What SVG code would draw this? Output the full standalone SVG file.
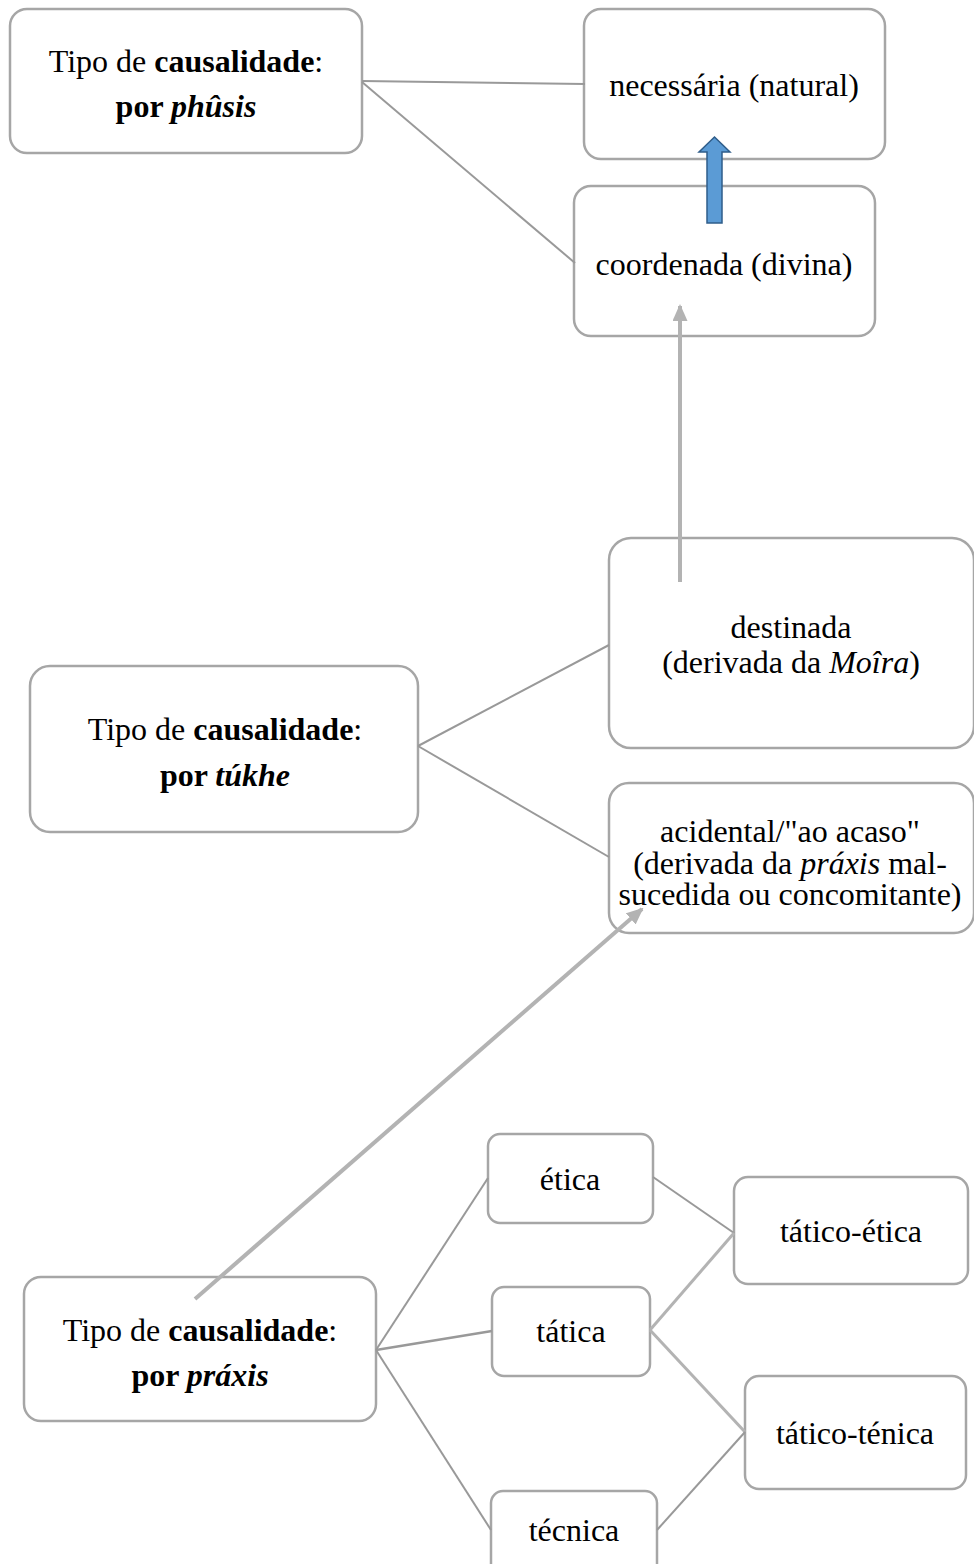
<svg xmlns="http://www.w3.org/2000/svg" width="974" height="1564" viewBox="0 0 974 1564">
<defs>
<style>
.box{fill:#fff;stroke:#a6a6a6;stroke-width:2.5}
.t{font-family:"Liberation Serif","Times New Roman",serif;font-size:32px;fill:#000;text-anchor:middle}
.b{font-weight:bold}
.i{font-style:italic}
.ln{stroke:#999;stroke-width:2;fill:none}
.lt{stroke:#b3b3b3;stroke-width:4;fill:none}
</style>
<marker id="ah" viewBox="0 0 17 15" refX="15" refY="7.5" markerWidth="17" markerHeight="15" orient="auto" markerUnits="userSpaceOnUse">
<path d="M0,0 L17,7.5 L0,15 z" fill="#b3b3b3"/>
</marker>
</defs>
<rect width="974" height="1564" fill="#fff"/>
<g id="n-phusis">
<rect class="box" x="10" y="9" width="352" height="144" rx="17"/>
<text class="t" x="186" y="72">Tipo de <tspan class="b">causalidade</tspan>:</text>
<text class="t" x="186" y="117"><tspan class="b">por </tspan><tspan class="b i">phûsis</tspan></text>
</g>
<g id="n-necessaria">
<rect class="box" x="584" y="9" width="301" height="150" rx="17"/>
<text class="t" x="734" y="96">necessária (natural)</text>
</g>
<g id="n-coordenada">
<rect class="box" x="574" y="186" width="301" height="150" rx="17"/>
<text class="t" x="724" y="275">coordenada (divina)</text>
</g>
<g id="blue-arrow">
<path d="M707,223 L707,152 L699,152 L714.5,137 L730,152 L722,152 L722,223 Z" fill="#5b9bd5" stroke="#2f5d8a" stroke-width="1.5"/>
</g>
<g id="n-destinada">
<rect class="box" x="609" y="538" width="365" height="210" rx="22"/>
<text class="t" x="791" y="638">destinada</text>
<text class="t" x="791" y="673">(derivada da <tspan class="i">Moîra</tspan>)</text>
</g>
<g id="n-tukhe">
<rect class="box" x="30" y="666" width="388" height="166" rx="20"/>
<text class="t" x="225" y="740">Tipo de <tspan class="b">causalidade</tspan>:</text>
<text class="t" x="225" y="786"><tspan class="b">por </tspan><tspan class="b i">túkhe</tspan></text>
</g>
<g id="n-acidental">
<rect class="box" x="609" y="783" width="365" height="150" rx="20"/>
<text class="t" x="790" y="842">acidental/"ao acaso"</text>
<text class="t" x="790" y="874">(derivada da <tspan class="i">práxis</tspan> mal-</text>
<text class="t" x="790" y="905">sucedida ou concomitante)</text>
</g>
<g id="n-praxis">
<rect class="box" x="24" y="1277" width="352" height="144" rx="17"/>
<text class="t" x="200" y="1341">Tipo de <tspan class="b">causalidade</tspan>:</text>
<text class="t" x="200" y="1386"><tspan class="b">por </tspan><tspan class="b i">práxis</tspan></text>
</g>
<g id="n-etica">
<rect class="box" x="488" y="1134" width="165" height="89" rx="12"/>
<text class="t" x="570" y="1190">ética</text>
</g>
<g id="n-tatica">
<rect class="box" x="492" y="1287" width="158" height="89" rx="12"/>
<text class="t" x="571" y="1342">tática</text>
</g>
<g id="n-tecnica">
<rect class="box" x="491" y="1491" width="166" height="90" rx="12"/>
<text class="t" x="574" y="1541">técnica</text>
</g>
<g id="n-tatico-etica">
<rect class="box" x="734" y="1177" width="234" height="107" rx="14"/>
<text class="t" x="851" y="1242">tático-ética</text>
</g>
<g id="n-tatico-tenica">
<rect class="box" x="745" y="1376" width="221" height="113" rx="14"/>
<text class="t" x="855" y="1444">tático-ténica</text>
</g>
<g id="connectors">
<line class="ln" x1="362" y1="81" x2="585" y2="84"/>
<line class="ln" x1="362" y1="82" x2="575" y2="263"/>
<line class="ln" x1="418" y1="746" x2="609" y2="645"/>
<line class="ln" x1="418" y1="746" x2="609" y2="857"/>
<line class="lt" x1="680" y1="582" x2="680" y2="306" marker-end="url(#ah)"/>
<line class="lt" x1="195" y1="1299" x2="642" y2="909" marker-end="url(#ah)"/>
<line class="ln" x1="376" y1="1350" x2="488" y2="1178"/>
<line class="ln" x1="376" y1="1350" x2="492" y2="1331" style="stroke-width:2.5"/>
<line class="ln" x1="376" y1="1350" x2="491" y2="1530"/>
<line class="ln" x1="653" y1="1177" x2="734" y2="1233"/>
<line class="lt" x1="650" y1="1330" x2="734" y2="1233" style="stroke-width:3"/>
<line class="lt" x1="650" y1="1330" x2="745" y2="1432" style="stroke-width:3"/>
<line class="ln" x1="657" y1="1530" x2="745" y2="1432"/>
</g>
</svg>
